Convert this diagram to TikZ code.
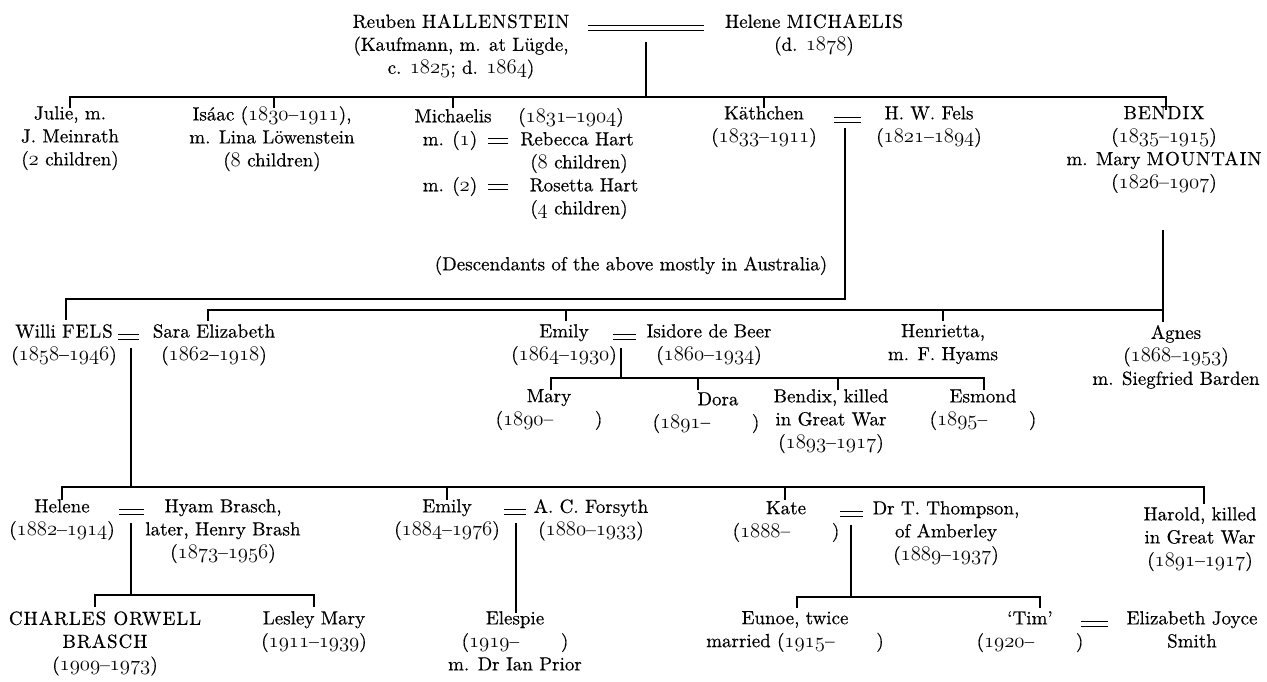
\documentclass[tikz,border=0pt]{standalone}
\usepackage{fontspec}
\setmainfont{lmroman10-regular.otf}[FakeBold=0.45]
\newcommand\fs{\fontsize{19}{23}\selectfont}
\newcommand\osf[1]{{\fontsize{20.74}{23}\usefont{OML}{cmm}{m}{it}#1}}
\newcommand\cp[1]{{\addfontfeature{LetterSpace=5}#1}}
\newcommand\yrs[2]{(\osf{#1}–\osf{#2})}
\newcommand\yro[1]{(\osf{#1}–\hspace{2.2em})}
\tikzset{
  lbl/.style={align=center, inner sep=0pt, anchor=north, yshift=11pt, font=\fs, execute at begin node=\strut},
  ln/.style={line width=1.2pt},
  mar/.style={double, double distance=3.4pt, line width=1.1pt}
}
\begin{document}
\begin{tikzpicture}[x=1pt,y=-1pt]
\useasboundingbox (0,0) rectangle (1267,681);
% generation 1
\node[lbl] (reuben) at (461,25) {Reuben \cp{HALLENSTEIN}\\(Kaufmann, m. at Lügde,\\c. \osf{1825}; d. \osf{1864})};
\node[lbl] (helene0) at (814,25) {Helene \cp{MICHAELIS}\\(d. \osf{1878})};
\coordinate (r0a) at (588,28); \coordinate (r0b) at (704,28);
\draw[mar] (r0a) -- (r0b);
\coordinate (v0) at (646,42); \coordinate (b1) at (646,97);
\draw[ln] (v0) -- (b1);
% generation 2
\node[lbl] (julie) at (70,117) {Julie, m.\\J. Meinrath\\(\osf{2} children)};
\node[lbl] (isaac) at (272,117) {Isáac (\osf{1830}–\osf{1911}),\\m. Lina Löwenstein\\(\osf{8} children)};
\node[lbl] (mich) at (453,117) {Michaelis};
\node[lbl] (michd) at (571,117) {\yrs{1831}{1904}};
\node[lbl] (m1) at (450,140) {m. (\osf{1})};
\node[lbl] (rebecca) at (577,140) {Rebecca Hart};
\node[lbl] (c8) at (579,163) {(\osf{8} children)};
\node[lbl] (m2) at (450,186) {m. (\osf{2})};
\node[lbl] (rosetta) at (584,186) {Rosetta Hart};
\node[lbl] (c4) at (579,209) {(\osf{4} children)};
\draw[mar] (488,141) -- (508,141);
\draw[mar] (488,187) -- (508,187);
\node[lbl] (kath) at (764,117) {Käthchen\\\yrs{1833}{1911}};
\node[lbl] (fels) at (929,117) {H. W. Fels\\\yrs{1821}{1894}};
\draw[mar] (834,120) -- (861,120);
\node[lbl] (bendix) at (1164,117) {\cp{BENDIX}\\\yrs{1835}{1915}\\m. Mary \cp{MOUNTAIN}\\\yrs{1826}{1907}};
\node[lbl] (desc) at (631,265) {(Descendants of the above mostly in Australia)};
\draw[ln] (70,108) -- (70,97) -- (1166,97) -- (1166,110);
\foreach \x in {274,453,764} \draw[ln] (\x,97) -- (\x,108);
% Kathchen line
\draw[ln] (845,128) -- (845,299) -- (66,299) -- (66,320);
% Bendix line
\draw[ln] (1163,230) -- (1163,322);
\draw[ln] (208,321) -- (208,310) -- (1163,310);
\foreach \x in {566,943} \draw[ln] (\x,310) -- (\x,321);
% generation 3
\node[lbl] (willi) at (64,335) {Willi \cp{FELS}\\\yrs{1858}{1946}};
\node[lbl] (sara) at (214,335) {Sara Elizabeth\\\yrs{1862}{1918}};
\draw[mar] (118,337) -- (139,337);
\node[lbl] (emily1) at (564,335) {Emily\\\yrs{1864}{1930}};
\node[lbl] (isidore) at (709,335) {Isidore de Beer\\\yrs{1860}{1934}};
\draw[mar] (613,337) -- (636,337);
\node[lbl] (henrietta) at (943,335) {Henrietta,\\m. F. Hyams};
\node[lbl] (agnes) at (1176,336) {Agnes\\\yrs{1868}{1953}\\m. Siegfried Barden};
\draw[ln] (621,348) -- (621,378);
\draw[ln] (551,390) -- (551,378) -- (984,378) -- (984,390);
\foreach \x in {698,838} \draw[ln] (\x,378) -- (\x,390);
% generation 4 (de Beer)
\node[lbl] (mary) at (549,400) {Mary\\\yro{1890}};
\node[lbl] (dora) at (718,400) {Dora};
\node[lbl] (dorad) at (706,423) {\yro{1891}};
\node[lbl] (bendix2) at (831,400) {Bendix, killed\\in Great War\\\yrs{1893}{1917}};
\node[lbl] (esmond) at (983,400) {Esmond\\\yro{1895}};
% Willi line
\draw[ln] (131,348) -- (131,487);
\draw[ln] (62,500) -- (62,487) -- (1204,487) -- (1204,504);
\foreach \x in {447,785} \draw[ln] (\x,487) -- (\x,500);
% generation 4 (Fels)
\node[lbl] (helene) at (62,510) {Helene\\\yrs{1882}{1914}};
\node[lbl] (hyam) at (223,510) {Hyam Brasch,\\later, Henry Brash\\\yrs{1873}{1956}};
\draw[mar] (119,512) -- (144,512);
\node[lbl] (emily2) at (447,510) {Emily\\\yrs{1884}{1976}};
\node[lbl] (forsyth) at (591,510) {A. C. Forsyth\\\yrs{1880}{1933}};
\draw[mar] (504,512) -- (526,512);
\node[lbl] (kate) at (786,512) {Kate\\\yro{1888}};
\node[lbl] (thompson) at (946,512) {Dr T. Thompson,\\of Amberley\\\yrs{1889}{1937}};
\draw[mar] (840,514) -- (863,514);
\node[lbl] (harold) at (1200,518) {Harold, killed\\in Great War\\\yrs{1891}{1917}};
\draw[ln] (131,523) -- (131,595);
\draw[ln] (95,607) -- (95,595) -- (314,595) -- (314,607);
\draw[ln] (516,523) -- (516,613);
\draw[ln] (851,525) -- (851,597);
\draw[ln] (797,608) -- (797,597) -- (1040,597) -- (1040,608);
% generation 5
\node[lbl] (charles) at (105,622) {\cp{CHARLES ORWELL}\\\cp{BRASCH}\\\yrs{1909}{1973}};
\node[lbl] (lesley) at (314,622) {Lesley Mary\\\yrs{1911}{1939}};
\node[lbl] (elespie) at (515,622) {Elespie\\\yro{1919}\\m. Dr Ian Prior};
\node[lbl] (eunoe) at (795,622) {Eunoe, twice\\married \yro{1915}};
\node[lbl] (tim) at (1030,622) {‘Tim’\\\yro{1920}};
\node[lbl] (eliz) at (1192,622) {Elizabeth Joyce\\Smith};
\draw[mar] (1081,624) -- (1108,624);
\end{tikzpicture}
\end{document}
